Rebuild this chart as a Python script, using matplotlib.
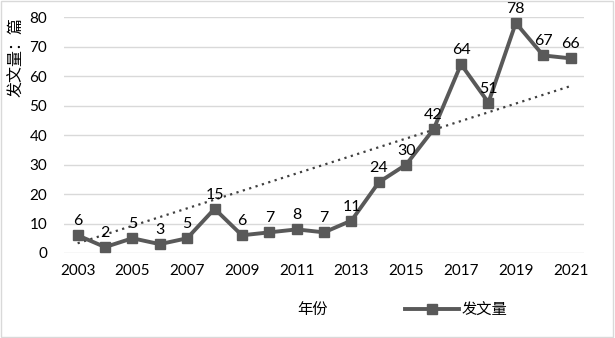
import numpy as np
import matplotlib
matplotlib.use('Agg')
import matplotlib.pyplot as plt

# dati
anni = list(range(2003, 2022))
valori = [6, 2, 5, 3, 5, 15, 6, 7, 8, 7, 11, 24, 30, 42, 64, 51, 78, 67, 66]
tick_y = [0, 10, 20, 30, 40, 50, 60, 70, 80]
# linea di tendenza: valore iniziale e finale
tendenza = [3.3, 56.6]

plt.rcParams['font.family'] = ['Lato', 'Noto Sans CJK SC', 'DejaVu Sans']

fig = plt.figure(figsize=(6.15, 3.38), dpi=100)
ax = fig.add_axes([0.104, 0.2515, 0.846, 0.698])

x = np.arange(len(anni))
ax.plot(x, valori, color='#595959', lw=2.8, marker='s', ms=7, label='发文量', zorder=3)

# linea di tendenza lineare
ax.plot([x[0], x[-1]], tendenza, color='#404040', lw=1.6, ls=(0, (1, 2)), zorder=2)

for xi, v in zip(x, valori):
    ax.annotate(str(v), (xi, v), xytext=(0, 5), textcoords='offset points',
                ha='center', va='bottom', fontsize=11.5, color='black')

ax.set_xlim(-0.5, len(anni) - 0.5)
ax.set_ylim(0, 80)
ax.set_yticks(tick_y)
ax.set_xticks(x[::2])
ax.set_xticklabels([str(a) for a in anni[::2]], fontsize=11)
ax.tick_params(axis='y', labelsize=11, length=0, pad=12)
ax.tick_params(axis='x', length=0, pad=8)
ax.grid(axis='y', color='#d9d9d9', lw=1)
ax.set_axisbelow(True)
for s in ax.spines.values():
    s.set_visible(False)

fig.text(0.027, 0.83, '发文量：篇', rotation=90, ha='center', va='center',
         fontsize=11.5, family=['Noto Sans CJK SC', 'DejaVu Sans'])
fig.text(0.508, 0.083, '年份', ha='center', va='center', fontsize=11,
         family=['Noto Sans CJK SC', 'DejaVu Sans'])
leg = fig.legend(loc='center', bbox_to_anchor=(0.742, 0.083), frameon=False,
                 prop={'family': 'Noto Sans CJK SC', 'size': 11},
                 handlelength=3.5, handletextpad=0.2)

# bordo della figura
fig.patches.append(plt.Rectangle((0.002, 0.003), 0.994, 0.993, transform=fig.transFigure,
                                 fill=False, edgecolor='#d9d9d9', lw=1))

fig.savefig('out.png', dpi=100)
